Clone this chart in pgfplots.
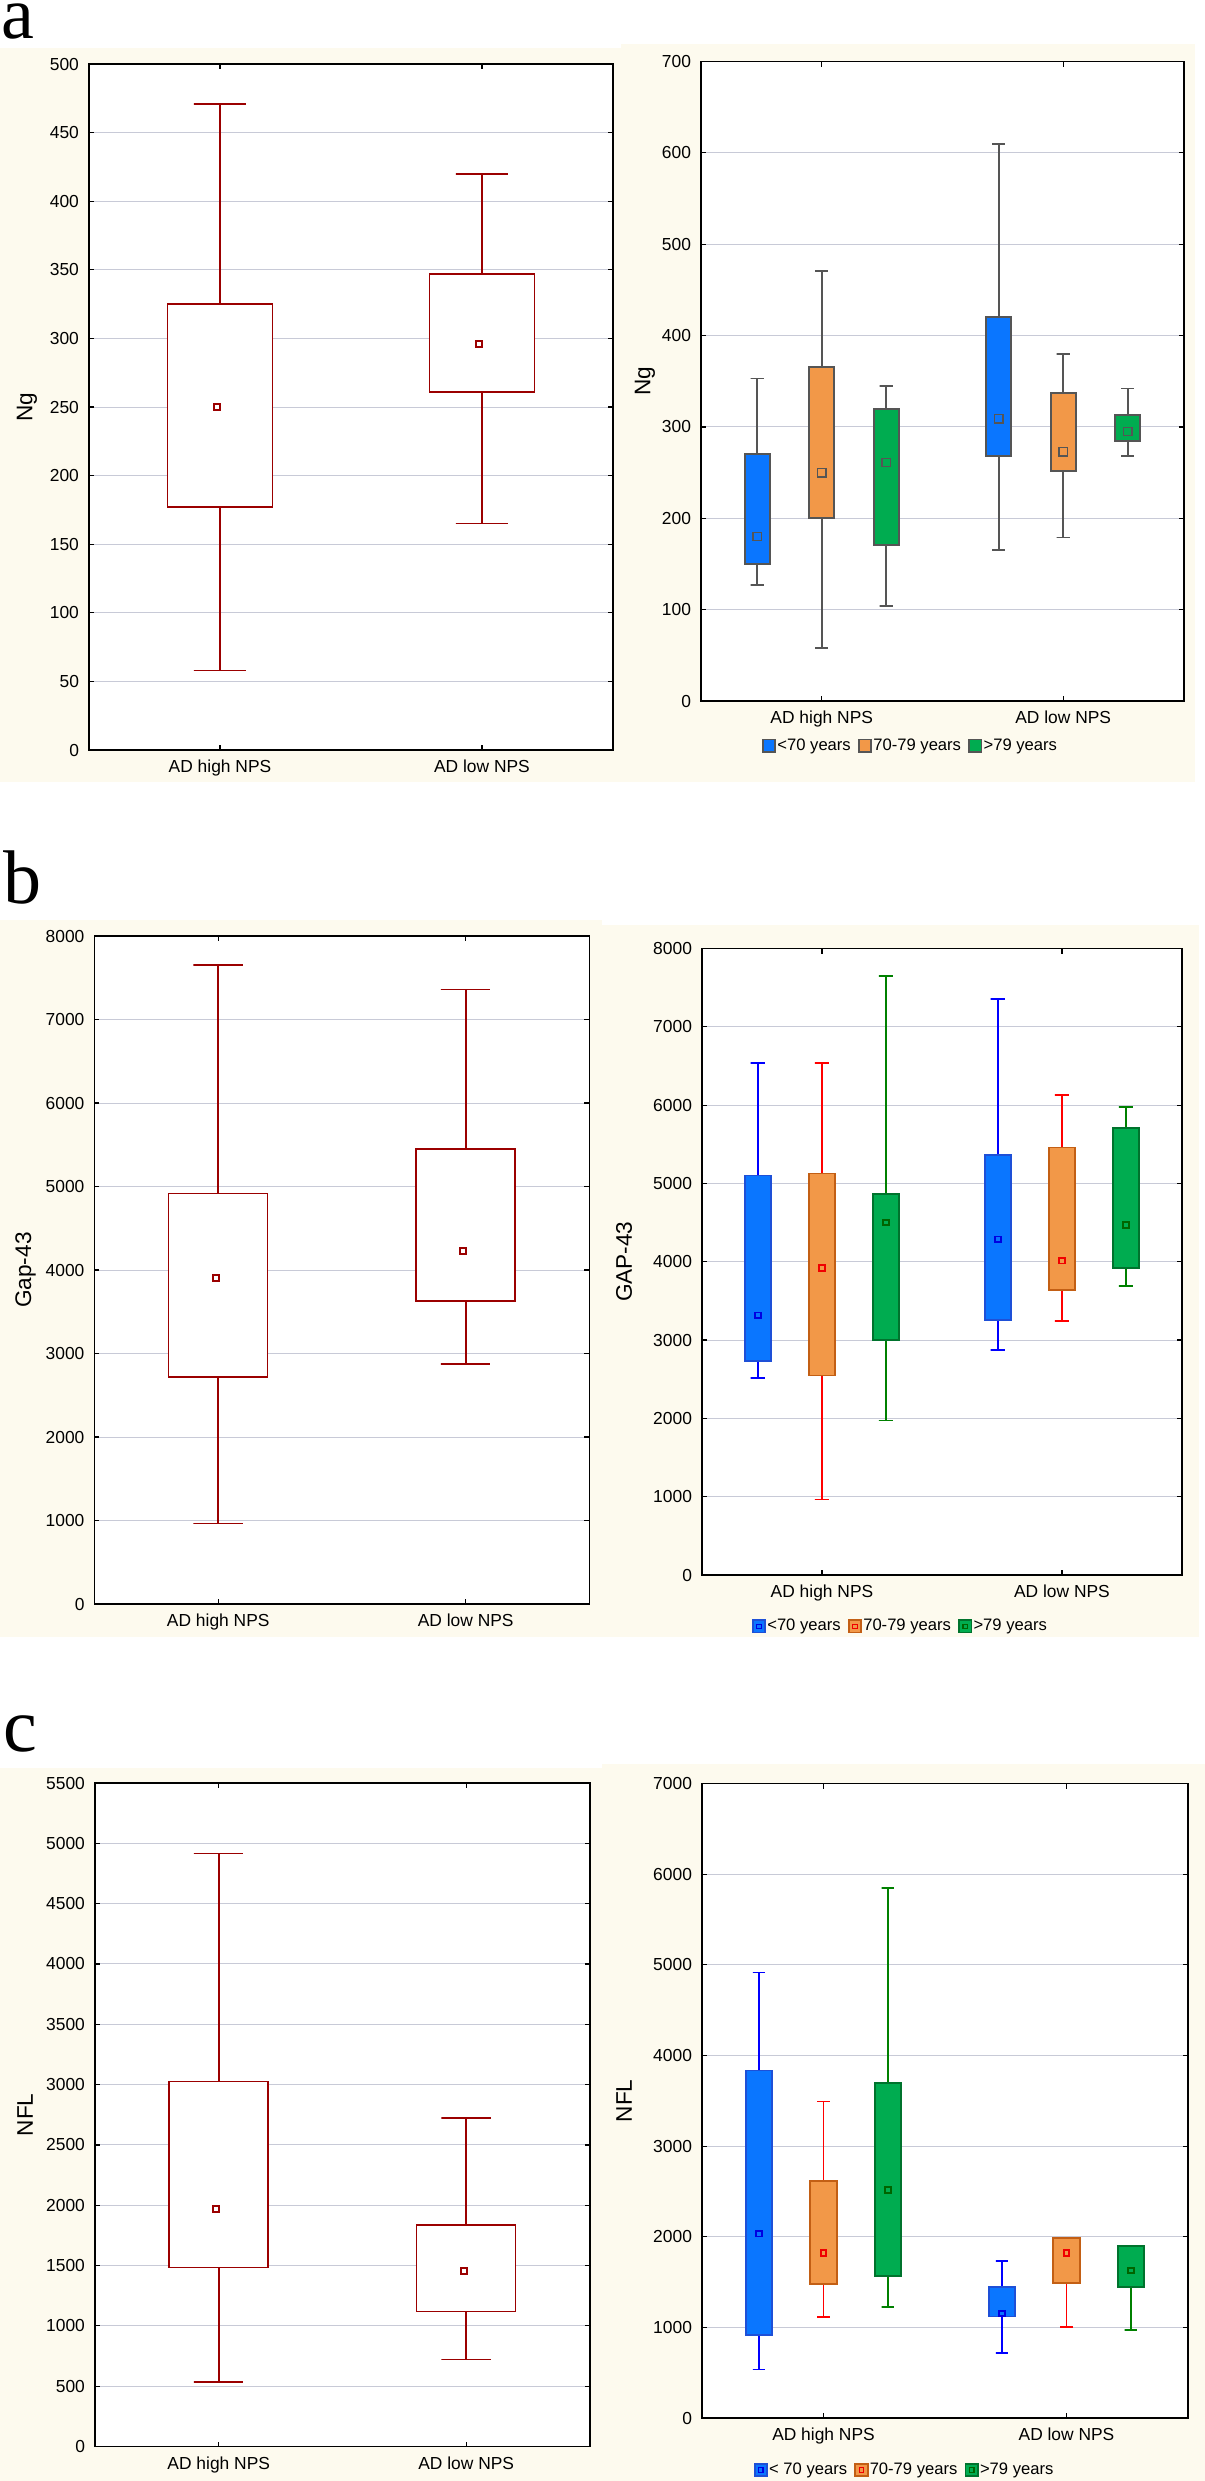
\documentclass[border=0pt]{standalone}
\usepackage{fontspec}
\setmainfont{Liberation Sans}
\newfontfamily\serifletter{Liberation Serif}
\usepackage{pgfplots}
\pgfplotsset{compat=1.18}

\definecolor{bgc}{RGB}{253,250,238}
\definecolor{adred}{RGB}{155,0,0}
\definecolor{gridc}{RGB}{200,202,215}
\definecolor{sblue}{RGB}{10,118,255}
\definecolor{sorange}{RGB}{242,152,72}
\definecolor{sgreen}{RGB}{0,172,80}
\definecolor{edgegray}{RGB}{85,85,85}
\definecolor{whgray}{RGB}{85,85,85}
\definecolor{eblue}{RGB}{30,80,215}
\definecolor{eorange}{RGB}{195,95,20}
\definecolor{egreen}{RGB}{0,115,45}
\definecolor{wblue}{RGB}{0,0,255}
\definecolor{wred}{RGB}{255,0,0}
\definecolor{wgreen}{RGB}{0,128,0}
\definecolor{mblue}{RGB}{0,0,225}
\definecolor{mred}{RGB}{240,0,0}
\definecolor{mgreen}{RGB}{0,100,0}

% #1 x, #2 half box width, #3 half cap width, #4 lower whisker, #5 lower quartile,
% #6 upper quartile, #7 upper whisker, #8 box options, #9 whisker options
\newcommand\drawbox[9]{%
  \pgfmathsetmacro\bxa{#1-#2}\pgfmathsetmacro\bxb{#1+#2}%
  \pgfmathsetmacro\bca{#1-#3}\pgfmathsetmacro\bcb{#1+#3}%
  \edef\bxtmp{%
    \noexpand\addplot[forget plot, #9] coordinates {(#1,#6) (#1,#7) (\bca,#7) (\bcb,#7)};
    \noexpand\addplot[forget plot, #9] coordinates {(#1,#5) (#1,#4) (\bca,#4) (\bcb,#4)};
    \noexpand\addplot[forget plot, #8] coordinates {(\bxa,#5) (\bxb,#5) (\bxb,#6) (\bxa,#6)} -- cycle;
  }\bxtmp}

\pgfplotsset{
  panel/.style={
    scale only axis,
    axis background/.style={fill=white},
    xmin=0.5, xmax=2.5, ymin=0,
    xtick={1,2}, xticklabels={AD high NPS,AD low NPS},
    ymajorgrids, grid style={line width=0.5pt, draw=gridc},
    tick align=inside, major tick length=2.5pt,
    every tick/.style={black, line width=0.6pt},
    axis line style={line width=0.9pt, black},
    tick label style={font=\fontsize{8.7}{10}\selectfont},
    yticklabel style={xshift=-1.5pt},
    xticklabel style={yshift=-1.5pt},
    /pgf/number format/1000 sep={},
    /pgf/number format/assume math mode=true,
  },
  ylab/.style={every axis y label/.style={at={(axis description cs:#1,0.5)}, rotate=90, anchor=center, font=\fontsize{11.3}{13}\selectfont}},
  meanmk/.style={forget plot, only marks, mark=square, draw=#1, mark size=1.4pt, mark options={line width=0.9pt, draw=#1}},
  legsty/.style 2 args={legend style={at={(#1,#2)}, anchor=center, draw=none, fill=none,
    legend columns=3, font=\fontsize{8.3}{9}\selectfont, inner sep=0pt,
    nodes={inner sep=0.6pt},
    /tikz/every even column/.append style={column sep=3pt}}, legend cell align=left},
  limg/.style n args={3}{legend image code/.code={\draw[draw=#2, fill=#1, line width=0.9pt] (0.5pt,-3.1pt) rectangle (6.7pt,3.1pt); \draw[draw=#3, line width=0.6pt] (2.5pt,-1.1pt) rectangle (4.7pt,1.1pt);}},
}

\begin{document}
\begin{tikzpicture}
\useasboundingbox (0,0) rectangle (602.5pt,-1240.5pt);
% backgrounds
\fill[bgc] (0,-24pt) rectangle (310.5pt,-391pt);
\fill[bgc] (310.5pt,-22pt) rectangle (597.5pt,-391pt);
\fill[bgc] (0,-460pt) rectangle (301pt,-818.5pt);
\fill[bgc] (301pt,-462.5pt) rectangle (599.5pt,-818.5pt);
\fill[bgc] (0,-884pt) rectangle (301pt,-1240.5pt);
\fill[bgc] (301pt,-882pt) rectangle (602.5pt,-1240.5pt);
% letters
\node[anchor=base west, inner sep=0pt, font=\serifletter\fontsize{37}{37}\selectfont] at (0.75pt,-19pt) {a};
\node[anchor=base west, inner sep=0pt, font=\serifletter\fontsize{38}{38}\selectfont] at (1.5pt,-451.5pt) {b};
\node[anchor=base west, inner sep=0pt, font=\serifletter\fontsize{38}{38}\selectfont] at (1.5pt,-875.5pt) {c};

% ---------------- a left
\begin{axis}[panel, at={(44.5pt,-375pt)}, anchor=south west, width=262pt, height=343pt,
  ymax=500, ytick={0,50,...,500}, ylab=-0.1183, ylabel={Ng}]
\drawbox{1}{0.2}{0.1}{58}{177}{325}{471}{draw=adred, fill=white, line width=0.75pt}{draw=adred, line width=0.8pt}
\drawbox{2}{0.2}{0.1}{165}{261}{347}{420}{draw=adred, fill=white, line width=0.75pt}{draw=adred, line width=0.8pt}
\addplot[forget plot, only marks, mark=square, mark size=1.5pt, draw=adred, mark options={line width=1pt, draw=adred}] coordinates {(0.99,250) (1.99,296)};
\end{axis}

% ---------------- a right
\begin{axis}[panel, at={(350.5pt,-350.5pt)}, anchor=south west, width=241.5pt, height=319.75pt,
  ymax=700, ytick={0,100,...,700}, ylab=-0.1159, ylabel={Ng}, legsty={0.433}{-0.070}]
\drawbox{0.733}{0.0515}{0.0275}{127}{150}{270}{353}{draw=edgegray, fill=sblue, line width=0.9pt}{draw=whgray, line width=0.8pt}
\drawbox{1}{0.0515}{0.0275}{58}{200}{366}{471}{draw=edgegray, fill=sorange, line width=0.9pt}{draw=whgray, line width=0.8pt}
\drawbox{1.267}{0.0515}{0.0275}{104}{171}{320}{345}{draw=edgegray, fill=sgreen, line width=0.9pt}{draw=whgray, line width=0.8pt}
\drawbox{1.733}{0.0515}{0.0275}{165}{268}{420}{610}{draw=edgegray, fill=sblue, line width=0.9pt}{draw=whgray, line width=0.8pt}
\drawbox{2}{0.0515}{0.0275}{179}{252}{337}{380}{draw=edgegray, fill=sorange, line width=0.9pt}{draw=whgray, line width=0.8pt}
\drawbox{2.267}{0.0515}{0.0275}{268}{285}{313}{342}{draw=edgegray, fill=sgreen, line width=0.9pt}{draw=whgray, line width=0.8pt}
\addplot[forget plot, only marks, mark=square, mark size=2.1pt, draw=edgegray, mark options={line width=0.7pt, draw=edgegray}] coordinates {(0.733,180) (1,250) (1.267,261) (1.733,309) (2,273) (2.267,295)};
\addlegendimage{limg={sblue}{edgegray}{sblue}}
\addlegendentry{<70 years}
\addlegendimage{limg={sorange}{edgegray}{sorange}}
\addlegendentry{70-79 years}
\addlegendimage{limg={sgreen}{edgegray}{sgreen}}
\addlegendentry{>79 years}
\end{axis}

% ---------------- b left
\begin{axis}[panel, at={(47.25pt,-802pt)}, anchor=south west, width=247.5pt, height=334pt,
  ymax=8000, ytick={0,1000,...,8000}, ylab=-0.1394, ylabel={Gap-43}]
\drawbox{1}{0.2}{0.1}{966}{2720}{4914}{7653}{draw=adred, fill=white, line width=0.75pt}{draw=adred, line width=0.8pt}
\drawbox{2}{0.2}{0.1}{2873}{3631}{5452}{7359}{draw=adred, fill=white, line width=0.75pt}{draw=adred, line width=0.8pt}
\addplot[forget plot, only marks, mark=square, mark size=1.5pt, draw=adred, mark options={line width=1pt, draw=adred}] coordinates {(0.99,3906) (1.99,4224)};
\end{axis}

% ---------------- b right
\begin{axis}[panel, at={(351pt,-787.5pt)}, anchor=south west, width=240pt, height=313.25pt,
  ymax=8000, ytick={0,1000,...,8000}, ylab=-0.1625, ylabel={GAP-43}, legsty={0.4125}{-0.082}]
\drawbox{0.733}{0.0545}{0.03}{2515}{2736}{5101}{6541}{draw=eblue, fill=sblue, line width=0.9pt}{draw=wblue, line width=0.85pt}
\drawbox{1}{0.0545}{0.03}{964}{2547}{5127}{6534}{draw=eorange, fill=sorange, line width=0.9pt}{draw=wred, line width=0.85pt}
\drawbox{1.267}{0.0545}{0.03}{1974}{3003}{4866}{7648}{draw=egreen, fill=sgreen, line width=0.9pt}{draw=wgreen, line width=0.85pt}
\drawbox{1.733}{0.0545}{0.03}{2873}{3257}{5368}{7355}{draw=eblue, fill=sblue, line width=0.9pt}{draw=wblue, line width=0.85pt}
\drawbox{2}{0.0545}{0.03}{3244}{3635}{5459}{6130}{draw=eorange, fill=sorange, line width=0.9pt}{draw=wred, line width=0.85pt}
\drawbox{2.267}{0.0545}{0.03}{3687}{3922}{5707}{5980}{draw=egreen, fill=sgreen, line width=0.9pt}{draw=wgreen, line width=0.85pt}
\addplot[meanmk=mblue] coordinates {(0.733,3316) (1.733,4287)};
\addplot[meanmk=mred] coordinates {(1,3922) (2,4013)};
\addplot[meanmk=mgreen] coordinates {(1.267,4502) (2.267,4469)};
\addlegendimage{limg={sblue}{eblue}{mblue}}
\addlegendentry{<70 years}
\addlegendimage{limg={sorange}{eorange}{mred}}
\addlegendentry{70-79 years}
\addlegendimage{limg={sgreen}{egreen}{mgreen}}
\addlegendentry{>79 years}
\end{axis}

% ---------------- c left
\begin{axis}[panel, at={(47.5pt,-1223.25pt)}, anchor=south west, width=247.5pt, height=331.75pt,
  ymax=5500, ytick={0,500,...,5500}, ylab=-0.1414, ylabel={NFL}]
\drawbox{1}{0.2}{0.1}{533}{1485}{3025}{4915}{draw=adred, fill=white, line width=0.75pt}{draw=adred, line width=0.8pt}
\drawbox{2}{0.2}{0.1}{723}{1121}{1836}{2724}{draw=adred, fill=white, line width=0.75pt}{draw=adred, line width=0.8pt}
\addplot[forget plot, only marks, mark=square, mark size=1.5pt, draw=adred, mark options={line width=1pt, draw=adred}] coordinates {(0.99,1971) (1.99,1455)};
\end{axis}

% ---------------- c right
\begin{axis}[panel, at={(351pt,-1209pt)}, anchor=south west, width=243pt, height=317.25pt,
  ymax=7000, ytick={0,1000,...,7000}, ylab=-0.1605, ylabel={NFL}, legsty={0.416}{-0.082}]
\drawbox{0.735}{0.054}{0.026}{535}{918}{3835}{4916}{draw=eblue, fill=sblue, line width=0.9pt}{draw=wblue, line width=0.85pt}
\drawbox{1}{0.054}{0.026}{1115}{1481}{2613}{3492}{draw=eorange, fill=sorange, line width=0.9pt}{draw=wred, line width=0.85pt}
\drawbox{1.265}{0.054}{0.026}{1228}{1571}{3700}{5851}{draw=egreen, fill=sgreen, line width=0.9pt}{draw=wgreen, line width=0.85pt}
\drawbox{1.735}{0.054}{0.026}{721}{1121}{1447}{1729}{draw=eblue, fill=sblue, line width=0.9pt}{draw=wblue, line width=0.85pt}
\drawbox{2}{0.054}{0.026}{1002}{1492}{1982}{1982}{draw=eorange, fill=sorange, line width=0.9pt}{draw=wred, line width=0.85pt}
\drawbox{2.265}{0.054}{0.026}{974}{1442}{1898}{1898}{draw=egreen, fill=sgreen, line width=0.9pt}{draw=wgreen, line width=0.85pt}
\addplot[meanmk=mblue] coordinates {(0.735,2033) (1.735,1154)};
\addplot[meanmk=mred] coordinates {(1,1819) (2,1819)};
\addplot[meanmk=mgreen] coordinates {(1.265,2517) (2.265,1628)};
\addlegendimage{limg={sblue}{eblue}{mblue}}
\addlegendentry{< 70 years}
\addlegendimage{limg={sorange}{eorange}{mred}}
\addlegendentry{70-79 years}
\addlegendimage{limg={sgreen}{egreen}{mgreen}}
\addlegendentry{>79 years}
\end{axis}
\end{tikzpicture}
\end{document}
